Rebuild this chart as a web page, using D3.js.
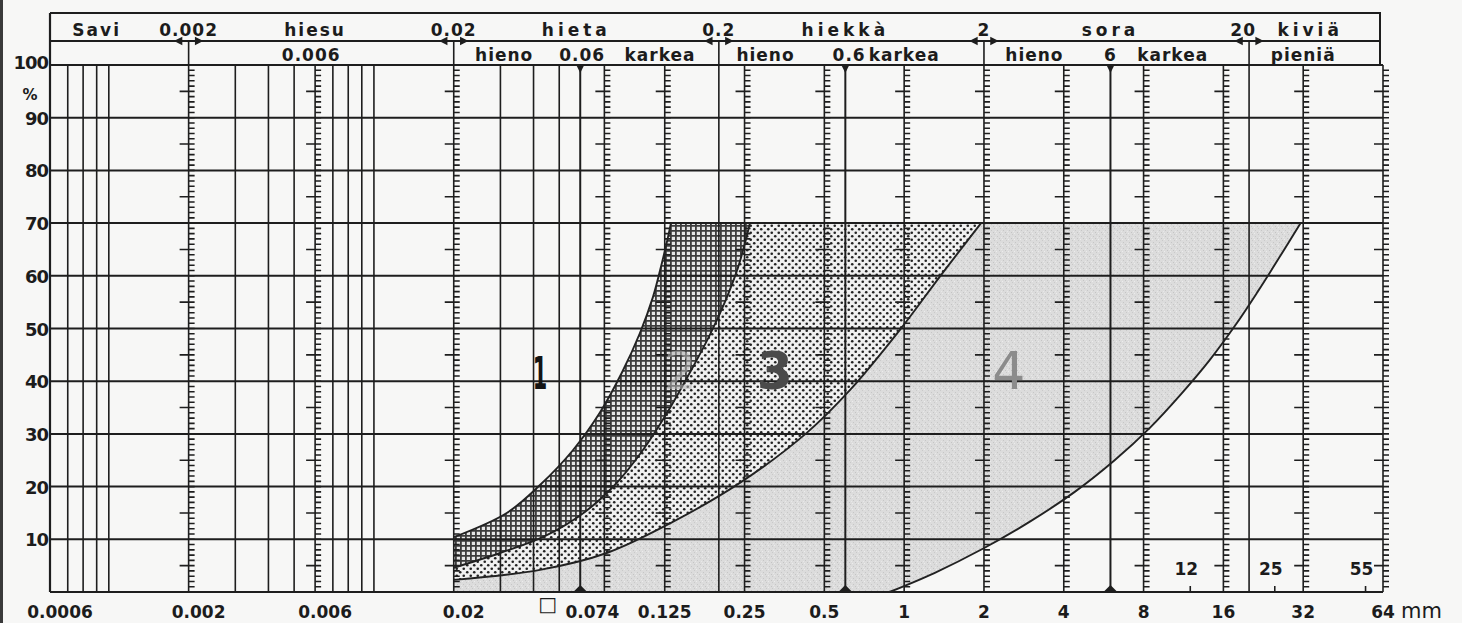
<!DOCTYPE html>
<html>
<head>
<meta charset="utf-8">
<script src="https://cdn.jsdelivr.net/npm/d3@7"></script>
<style>
  html, body { margin: 0; padding: 0; background: #f7f7f6; }
  svg { display: block; }
  text { font-family: "DejaVu Sans", sans-serif; font-weight: bold; fill: #1c1c1c; }
</style>
</head>
<body>
<svg id="chart" width="1462" height="623"></svg>
<script>
// percent grid + labels
let pctGrid = [0, 10, 20, 30, 40, 50, 60, 70, 80, 90, 100];
let pctLabels = [10, 20, 30, 40, 50, 60, 70, 80, 90, 100];

// vertical lines (grain size, mm)
let plainLines = [0.0007, 0.0008, 0.0009, 0.001, 0.003, 0.004, 0.005, 0.007, 0.008, 0.009, 0.01,
  0.03, 0.04, 0.05, 0.2, 20];
let markLines = [0.06, 0.6, 6];
let rulerLines = [0.002, 0.006, 0.02, 0.074, 0.125, 0.25, 0.5, 1, 2, 4, 8, 16, 32, 64];

// bottom axis
let sizeTicks = [0.0006, 0.002, 0.006, 0.02, 0.074, 0.125, 0.25, 0.5, 1, 2, 4, 8, 16, 32, 64];
let sizeLabels = ["0.0006", "0.002", "0.006", "0.02", "0.074", "0.125", "0.25", "0.5", "1", "2", "4", "8", "16", "32", "64"];
let innerTicks = [12, 25, 55];

// header (soil classes)
let classBounds = [0.002, 0.02, 0.2, 2, 20];
let row1Labels = ["Savi", "0.002", "hiesu", "0.02", "hieta", "0.2", "hiekkà", "2", "sora", "20", "kiviä"];
let row1At = [0.0009, 0.002, 0.006, 0.02, 0.058, 0.2, 0.6, 2, 6, 19, 34];
let row2Labels = ["0.006", "hieno", "0.06", "karkea", "hieno", "0.6", "karkea", "hieno", "6", "karkea", "pieniä"];
let row2At = [0.0058, 0.031, 0.061, 0.12, 0.3, 0.62, 1.0, 3.1, 6, 10.3, 32];

// boundary curves [mm, %]
let curveA = [[0.02, 10.4], [0.0317, 15], [0.0423, 20.3], [0.0563, 26.9], [0.0711, 34], [0.0861, 41.6],
  [0.1007, 49.1], [0.1129, 56], [0.1219, 62.4], [0.1284, 67.2], [0.1319, 70]];
let curveB = [[0.02, 4.6], [0.0299, 7.4], [0.0441, 10.6], [0.0625, 15.2], [0.081, 20.3], [0.1033, 26.9],
  [0.1283, 34.2], [0.1554, 41.6], [0.185, 48.8], [0.2123, 55.4], [0.236, 61.5], [0.2528, 66.8], [0.262, 70]];
let curveC = [[0.02, 2.3], [0.0423, 4.2], [0.0755, 7.4], [0.134, 13.3], [0.24, 20.7], [0.429, 30.2],
  [0.624, 38.3], [0.962, 49.7], [1.37, 60], [1.95, 70]];
let curveD = [[0.88, 0], [1.3, 3.6], [1.98, 8.2], [2.97, 13.3], [4.4, 19], [6.22, 25], [8.43, 31.1],
  [11.1, 37.6], [14.2, 44], [17.8, 50.7], [21.5, 56.9], [26.1, 63.6], [31.3, 70]];

let bandNames = ["1", "2", "3", "4"];
let bandAt = [[0.0423, 38.5], [0.143, 38.5], [0.325, 38.5], [2.48, 38.5]];

let svg = d3.select("#chart");
let x = d3.scaleLog().domain([0.0006, 64]).range([50, 1383]);
let y = d3.scaleLinear().domain([0, 100]).range([592, 65]);
let headTop = 13, headMid = 41;
let ink = "#1e1e1e";

// scan edge
svg.append("rect").attr("x", 0).attr("y", 0).attr("width", 3).attr("height", 623).attr("fill", "#3a3a3a");

// patterns
let defs = svg.append("defs");
let ph = defs.append("pattern").attr("id", "hatch").attr("patternUnits", "userSpaceOnUse")
  .attr("width", 5).attr("height", 5);
ph.append("rect").attr("width", 5).attr("height", 5).attr("fill", "#e6e6e6");
ph.append("path").attr("d", "M0,0.9H5M0.9,0V5").attr("stroke", "#3c3c3c").attr("stroke-width", 1.8);

let pd = defs.append("pattern").attr("id", "dots").attr("patternUnits", "userSpaceOnUse")
  .attr("width", 7).attr("height", 7);
pd.append("rect").attr("width", 7).attr("height", 7).attr("fill", "#f0f0f0");
pd.append("circle").attr("cx", 1.75).attr("cy", 1.75).attr("r", 1.3).attr("fill", "#222");
pd.append("circle").attr("cx", 5.25).attr("cy", 5.25).attr("r", 1.3).attr("fill", "#222");

let pg = defs.append("pattern").attr("id", "grain").attr("patternUnits", "userSpaceOnUse")
  .attr("width", 6).attr("height", 6);
pg.append("rect").attr("width", 6).attr("height", 6).attr("fill", "#dcdcdc");
[[1, 2, "#c6c6c6"], [4, 0, "#c9c9c9"], [3, 4, "#c4c4c4"], [0, 5, "#ececec"], [5, 3, "#e8e8e8"]].forEach(q => {
  pg.append("rect").attr("x", q[0]).attr("y", q[1]).attr("width", 1).attr("height", 1).attr("fill", q[2]);
});

// filled bands
let line = d3.line().x(d => x(d[0])).y(d => y(d[1])).curve(d3.curveCatmullRom.alpha(0.5));
let cont = pts => line(pts).replace(/^M/, "L");
let rev = pts => pts.slice().reverse();

svg.append("path").attr("d", line(curveC) + cont(rev(curveD)) + "L" + x(0.02) + "," + y(0) + "Z")
  .attr("fill", "url(#grain)");
svg.append("path").attr("d", line(curveB) + cont(rev(curveC)) + "Z").attr("fill", "url(#dots)");
svg.append("path").attr("d", line(curveA) + cont(rev(curveB)) + "Z").attr("fill", "url(#hatch)");

// horizontal grid
svg.append("g").selectAll("line").data(pctGrid).enter().append("line")
  .attr("x1", x(0.0006)).attr("x2", x(64))
  .attr("y1", d => y(d)).attr("y2", d => y(d))
  .attr("stroke", ink).attr("stroke-width", 2);

// vertical lines
svg.append("g").selectAll("line").data(plainLines.concat(markLines)).enter().append("line")
  .attr("x1", d => x(d)).attr("x2", d => x(d))
  .attr("y1", y(100)).attr("y2", y(0))
  .attr("stroke", ink).attr("stroke-width", d => markLines.includes(d) ? 2 : 1.6);

svg.append("line").attr("x1", x(0.0006)).attr("x2", x(0.0006)).attr("y1", headTop).attr("y2", y(0))
  .attr("stroke", ink).attr("stroke-width", 2.2);

let rulers = svg.append("g");
rulerLines.forEach(v => {
  let xx = x(v);
  let p = "M" + xx + "," + y(100) + "V" + y(0);
  d3.range(1, 100).forEach(k => { p += "M" + xx + "," + y(k) + "h6"; });
  d3.range(5, 100, 10).forEach(k => { p += "M" + (xx - 9) + "," + y(k) + "h9"; });
  rulers.append("path").attr("d", p).attr("stroke", ink).attr("stroke-width", 1.6).attr("fill", "none");
});

// markers on the 0.06 / 0.6 / 6 lines
markLines.forEach(v => {
  let xx = x(v);
  svg.append("path").attr("d", `M${xx - 4},${y(100)}L${xx + 4},${y(100)}L${xx},${y(100) + 8}Z`).attr("fill", ink);
  svg.append("path").attr("d", `M${xx - 7},${y(0)}L${xx},${y(0) - 7}L${xx + 7},${y(0)}Z`).attr("fill", ink);
});

// boundary curves
[curveA, curveB, curveC, curveD].forEach(c => {
  svg.append("path").attr("d", line(c)).attr("fill", "none").attr("stroke", "#222").attr("stroke-width", 1.9);
});

// header box
let hx0 = x(0.0006), hx1 = 1380;
svg.append("path")
  .attr("d", `M${hx0},${headTop}H${hx1}V${y(100)}M${hx0},${headMid}H${hx1}`)
  .attr("stroke", ink).attr("stroke-width", 2).attr("fill", "none");
classBounds.forEach(v => {
  let xx = x(v);
  svg.append("line").attr("x1", xx).attr("x2", xx).attr("y1", headMid).attr("y2", y(100))
    .attr("stroke", ink).attr("stroke-width", 1.6);
  svg.append("path")
    .attr("d", `M${xx - 13},${headMid}l6,-3v6zM${xx + 13},${headMid}l-6,-3v6zM${xx - 10},${headMid}H${xx + 10}`)
    .attr("fill", ink).attr("stroke", ink).attr("stroke-width", 1.4);
});

let isNum = s => /^[0-9.]+$/.test(s);
svg.append("g").selectAll("text").data(row1Labels).enter().append("text")
  .attr("x", (d, i) => x(row1At[i])).attr("y", 36)
  .attr("text-anchor", "middle").style("font-size", "17px")
  .style("letter-spacing", d => isNum(d) ? "1px" : (d === "Savi" || d === "hiesu" ? "2px" : "4px"))
  .text(d => d);
svg.append("g").selectAll("text").data(row2Labels).enter().append("text")
  .attr("x", (d, i) => x(row2At[i])).attr("y", 61)
  .attr("text-anchor", "middle").style("font-size", "17px")
  .style("letter-spacing", "1px")
  .text(d => d);

// y labels
svg.append("g").selectAll("text").data(pctLabels).enter().append("text")
  .attr("x", 48).attr("y", d => y(d) + (d === 100 ? 4 : 7))
  .attr("text-anchor", "end").style("font-size", "18px").style("letter-spacing", "-1px")
  .text(d => d);
svg.append("text").attr("x", 30).attr("y", 100).attr("text-anchor", "middle").style("font-size", "15px").text("%");

// bottom labels
svg.append("g").selectAll("text").data(sizeLabels).enter().append("text")
  .attr("x", (d, i) => x(sizeTicks[i]) + (sizeTicks[i] < 0.05 ? 10 : (sizeTicks[i] === 0.074 ? -12 : 0)))
  .attr("y", 618).attr("text-anchor", "middle").style("font-size", "17px")
  .text(d => d);
svg.append("text").attr("x", x(0.074) - 66).attr("y", 611).style("font-size", "20px").style("font-weight", "normal").text("□");
svg.append("text").attr("x", x(64) + 18).attr("y", 618).style("font-size", "21px").style("font-weight", "normal").text("mm");

// inner tick labels
innerTicks.forEach(v => {
  svg.append("line").attr("x1", x(v)).attr("x2", x(v)).attr("y1", y(0)).attr("y2", y(0) - 6)
    .attr("stroke", ink).attr("stroke-width", 1.6);
});
svg.append("g").selectAll("text").data(innerTicks).enter().append("text")
  .attr("x", d => x(d) - 4).attr("y", y(3.3)).attr("text-anchor", "middle").style("font-size", "17px")
  .text(d => d);

// band numbers
let bandFill = ["#141414", "#b4b4b4", "#4a4a4a", "#8c8c8c"];
bandNames.forEach((n, i) => {
  let t = svg.append("text").attr("text-anchor", "middle").style("font-size", "52px")
    .style("font-weight", "normal").style("fill", bandFill[i]).text(n);
  if (n === "1") {
    t.style("font-weight", "bold")
      .attr("transform", `translate(${x(bandAt[i][0])},${y(bandAt[i][1])}) scale(0.4,0.85)`);
  } else {
    t.attr("x", x(bandAt[i][0])).attr("y", y(bandAt[i][1]));
    if (n === "2") t.style("opacity", 0.55);
    if (n === "3") t.style("font-weight", "bold");
  }
});
</script>
</body>
</html>
